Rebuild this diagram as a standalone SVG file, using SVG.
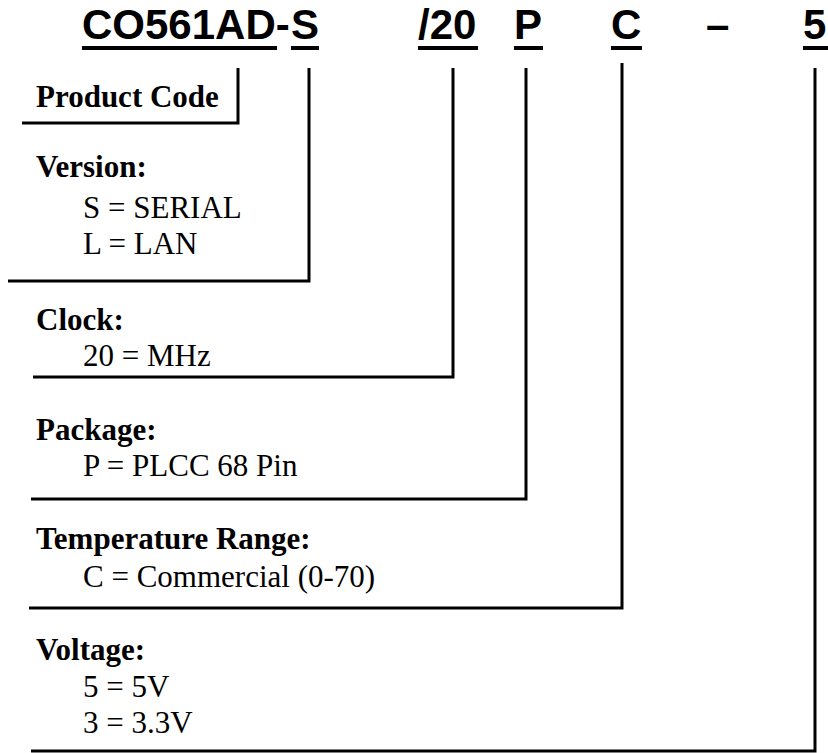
<svg xmlns="http://www.w3.org/2000/svg" width="828" height="753" viewBox="0 0 828 753">
<style>
.t{font-family:"Liberation Sans",Arial,sans-serif;font-weight:bold;font-size:42px;fill:#000}
.h{font-family:"Liberation Serif","Times New Roman",serif;font-weight:bold;font-size:31px;fill:#000}
.i{font-family:"Liberation Serif","Times New Roman",serif;font-size:31px;fill:#000}
.ln{fill:none;stroke:#000;stroke-width:3}
</style>
<rect width="828" height="753" fill="#fff"/>
<g id="title">
<text class="t" x="82" y="39">CO561AD-</text>
<text class="t" x="291" y="39">S</text>
<text class="t" x="418" y="39">/20</text>
<text class="t" x="514" y="39">P</text>
<text class="t" x="611" y="39">C</text>
<text class="t" x="706" y="39">–</text>
<text class="t" x="803" y="39">5</text>
<rect x="82" y="46" width="195" height="4"/>
<rect x="291" y="46" width="28" height="4"/>
<rect x="418" y="46" width="60" height="4"/>
<rect x="514" y="46" width="29" height="4"/>
<rect x="611" y="46" width="31" height="4"/>
<rect x="803" y="46" width="25" height="4"/>
</g>
<g id="product-code">
<text class="h" x="36" y="107">Product Code</text>
</g>
<g id="version">
<text class="h" x="36" y="177">Version:</text>
<text class="i" x="83" y="218">S = SERIAL</text>
<text class="i" x="83" y="254">L = LAN</text>
</g>
<g id="clock">
<text class="h" x="36" y="330">Clock:</text>
<text class="i" x="83" y="366">20 = MHz</text>
</g>
<g id="package">
<text class="h" x="36" y="440">Package:</text>
<text class="i" x="83" y="476">P = PLCC 68 Pin</text>
</g>
<g id="temperature">
<text class="h" x="36" y="549">Temperature Range:</text>
<text class="i" x="83" y="587">C = Commercial (0-70)</text>
</g>
<g id="voltage">
<text class="h" x="36" y="660">Voltage:</text>
<text class="i" x="83" y="697">5 = 5V</text>
<text class="i" x="83" y="733">3 = 3.3V</text>
</g>
<g id="connectors">
<polyline class="ln" points="22,123 238,123 238,68"/>
<polyline class="ln" points="8,281 309,281 309,68"/>
<polyline class="ln" points="33,377 453,377 453,68"/>
<polyline class="ln" points="31,499 526,499 526,68"/>
<polyline class="ln" points="29,608 622,608 622,63"/>
<polyline class="ln" points="31,751 815,751 815,68"/>
</g>
</svg>
